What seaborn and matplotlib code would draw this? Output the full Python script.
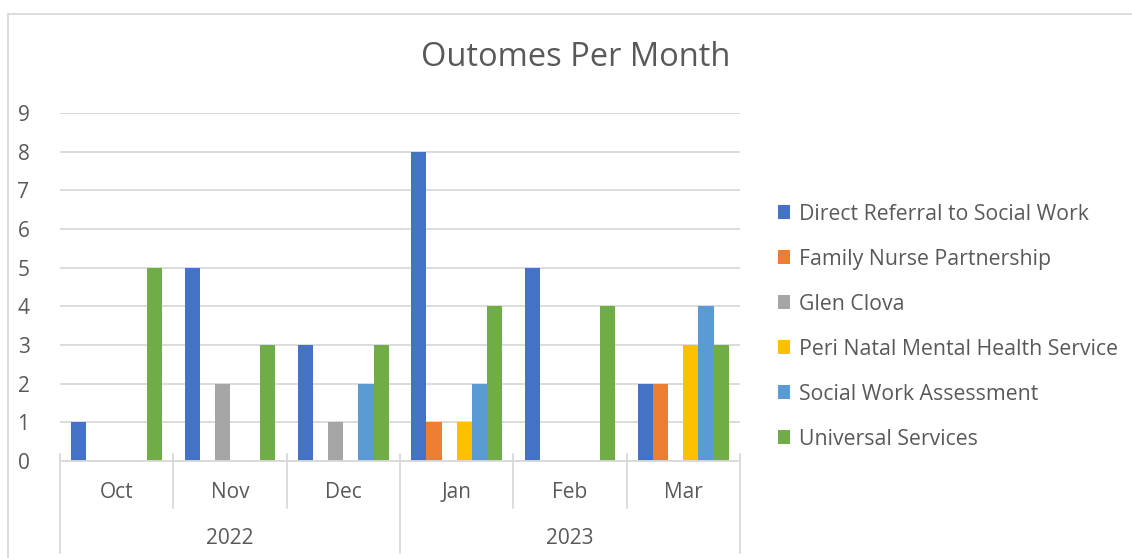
import numpy as np
import pandas as pd
import seaborn as sns
import matplotlib.pyplot as plt
from matplotlib.patches import Rectangle

months = ['Oct', 'Nov', 'Dec', 'Jan', 'Feb', 'Mar']
years = ['2022', '2023']
services = ['Direct Referral to Social Work', 'Family Nurse Partnership', 'Glen Clova',
            'Peri Natal Mental Health Service', 'Social Work Assessment', 'Universal Services']

direct_referral = [1, 5, 3, 8, 5, 2]
family_nurse = [0, 0, 0, 1, 0, 2]
glen_clova = [0, 2, 1, 0, 0, 0]
peri_natal = [0, 0, 0, 1, 0, 3]
sw_assessment = [0, 0, 2, 2, 0, 4]
universal = [5, 3, 3, 4, 4, 3]

colors = ['#4472C4', '#ED7D31', '#A5A5A5', '#FFC000', '#5B9BD5', '#70AD47']

rows = []
for name, vals in zip(services, [direct_referral, family_nurse, glen_clova,
                                 peri_natal, sw_assessment, universal]):
    for m, v in zip(months, vals):
        rows.append({'month': m, 'service': name, 'count': v})
data = pd.DataFrame(rows)

sns.set_style('white')
plt.rcParams['font.family'] = ['Open Sans', 'DejaVu Sans']
txt = '#595959'
grid = '#D9D9D9'

fig = plt.figure(figsize=(11.32, 5.58), dpi=100)
ax = fig.add_axes([60/1132, 97/558, 680/1132, 348/558])

sns.barplot(data=data, x='month', y='count', hue='service', order=months,
            hue_order=services, palette=colors, width=0.8, saturation=1,
            linewidth=0, ax=ax)

ax.set_ylim(0, 9)
ax.set_xlim(-0.5, 5.5)
ax.set_yticks(range(10))
ax.yaxis.grid(True, color=grid, linewidth=1.3)
ax.set_axisbelow(True)
for s in ['top', 'right', 'left']:
    ax.spines[s].set_visible(False)
ax.spines['bottom'].set_color(grid)
ax.spines['bottom'].set_linewidth(1.3)
ax.tick_params(axis='y', length=0, pad=22, labelsize=15, labelcolor=txt)
ax.set_xticks([])
ax.set_xlabel('')
ax.set_ylabel('')

# two-level category axis
trans = ax.get_xaxis_transform()
px = 1 / 348
for i, m in enumerate(months):
    ax.text(i, -31*px, m, transform=trans, ha='center', va='center',
            fontsize=15, color=txt)
for j, y in enumerate(years):
    ax.text(1 + 3*j, -78*px, y, transform=trans, ha='center', va='center',
            fontsize=15, color=txt)
for b in np.arange(-0.5, 6, 1):
    bottom = -92*px if b in (-0.5, 2.5, 5.5) else -47*px
    ax.plot([b, b], [7*px, bottom], transform=trans, color=grid,
            linewidth=1.3, clip_on=False)

leg = ax.legend(loc='upper left', bbox_to_anchor=(769/1132, 1 - 195/558),
                bbox_transform=fig.transFigure, frameon=False, fontsize=15.3,
                labelspacing=1.13, handlelength=0.6, handleheight=0.6,
                handletextpad=0.4, borderaxespad=0)
for t in leg.get_texts():
    t.set_color(txt)

fig.text(576/1132, 1 - 57/558, 'Outomes Per Month', ha='center', va='center',
         fontsize=23.5, color=txt)

fig.patches.append(Rectangle((8/1132, -0.01), 1.1, 1 - 14/558 + 0.01,
                             transform=fig.transFigure, fill=False,
                             edgecolor=grid, linewidth=1.3))

fig.savefig('out.png', dpi=100)
